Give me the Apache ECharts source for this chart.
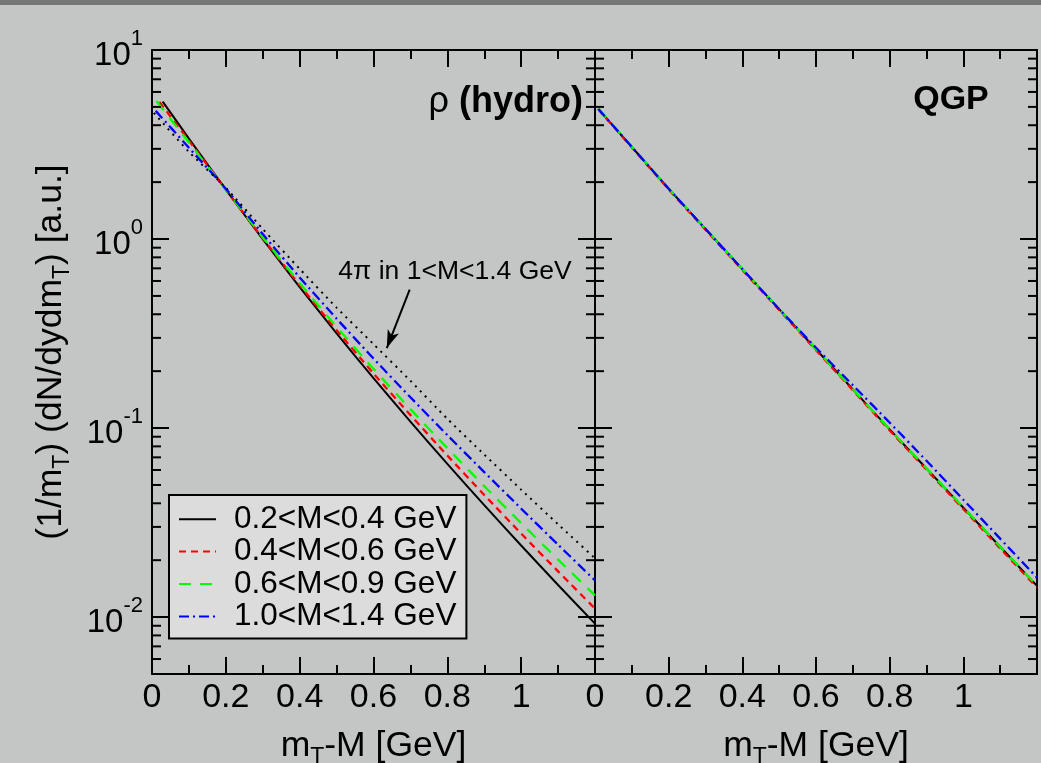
<!DOCTYPE html>
<html><head><meta charset="utf-8">
<style>html,body{margin:0;padding:0;background:#c4c6c5;}#c{width:1041px;height:763px;}</style>
<script src="https://cdn.jsdelivr.net/npm/echarts@6/dist/echarts.min.js"></script>
</head><body><div id="c"></div>
<script>
// ---- data ----
// rho (hydro) panel
const hydroX_a = [0.029, 0.1, 0.2, 0.3, 0.4, 0.5, 0.6, 0.7, 0.8, 0.9, 1.0, 1.1, 1.2];
const hydroY_a = [5.33, 3.40, 1.824, 0.9977, 0.5572, 0.3170, 0.1837, 0.1081, 0.0646, 0.0391, 0.02393, 0.01479, 0.00923];
const hydroX_b = [0.02, 0.1, 0.2, 0.3, 0.4, 0.5, 0.6, 0.7, 0.8, 0.9, 1.0, 1.1, 1.2];
const hydroY_b = [5.31, 3.319, 1.824, 1.009, 0.5702, 0.3296, 0.1945, 0.1172, 0.0716, 0.04426, 0.02767, 0.01746, 0.01109];
const hydroX_c = [0.012, 0.1, 0.2, 0.3, 0.4, 0.5, 0.6, 0.7, 0.8, 0.9, 1.0, 1.1, 1.2];
const hydroY_c = [5.37, 3.243, 1.824, 1.021, 0.5848, 0.3428, 0.2056, 0.1259, 0.0783, 0.0493, 0.03141, 0.02014, 0.01303];
const hydroX_d = [0.01, 0.1, 0.2, 0.3, 0.4, 0.5, 0.6, 0.7, 0.8, 0.9, 1.0, 1.1, 1.2];
const hydroY_d = [4.764, 3.040, 1.845, 1.062, 0.6266, 0.3793, 0.2333, 0.1455, 0.0918, 0.0585, 0.0375, 0.02415, 0.01563];
const hydroX_4pi = [0.005, 0.1, 0.2, 0.3, 0.4, 0.5, 0.6, 0.7, 0.8, 0.9, 1.0, 1.1, 1.2];
const hydroY_4pi = [4.645, 2.891, 1.866, 1.130, 0.6950, 0.4335, 0.2780, 0.1778, 0.1119, 0.07244, 0.04721, 0.03097, 0.02046];
// QGP panel
const qgpX = [0.009, 0.1, 0.2, 0.3, 0.4, 0.5, 0.6, 0.7, 0.8, 0.9, 1.0, 1.1, 1.2];
const qgpY_a = [4.875, 3.069, 1.845, 1.130, 0.6934, 0.4256, 0.2612, 0.1603, 0.0984, 0.0611, 0.0379, 0.02355, 0.01462];
const qgpY_b = [4.86, 3.05, 1.83, 1.12, 0.686, 0.421, 0.258, 0.1585, 0.0972, 0.0602, 0.0373, 0.0231, 0.01430];
const qgpY_c = [4.90, 3.08, 1.85, 1.132, 0.695, 0.426, 0.2615, 0.1605, 0.0985, 0.0612, 0.0380, 0.02358, 0.01465];
const qgpY_d = [4.875, 3.069, 1.845, 1.130, 0.6934, 0.4256, 0.2661, 0.1686, 0.1069, 0.0671, 0.0418, 0.0260, 0.01618];
// names and ticks
const seriesNames = ['0.2<M<0.4 GeV', '0.4<M<0.6 GeV', '0.6<M<0.9 GeV', '1.0<M<1.4 GeV'];
const fourPiName = '4π in 1<M<1.4 GeV';
const minorLogTicks = [0.006,0.007,0.008,0.009,0.02,0.03,0.04,0.05,0.06,0.07,0.08,0.09,0.2,0.3,0.4,0.5,0.6,0.7,0.8,0.9,2,3,4,5,6,7,8,9];

const FONT = '"Liberation Sans", Arial, Helvetica, sans-serif';
const zip = (xs, ys) => xs.map((x, i) => [x, ys[i]]);

const xBase = (grid, pos, labels, name) => ({
  type: 'value', gridIndex: grid, position: pos, min: 0, max: 1.2, interval: 0.2,
  axisLine: { show: true, onZero: false, lineStyle: { color: '#000', width: 2 } },
  axisTick: { show: true, inside: true, length: 17, lineStyle: { color: '#000', width: 2 } },
  minorTick: { show: true, splitNumber: 2, length: 9, lineStyle: { color: '#000', width: 2 } },
  splitLine: { show: false }, minorSplitLine: { show: false },
  axisLabel: {
    show: labels, color: '#000', fontSize: 34, fontFamily: FONT, margin: 7,
    formatter: v => (v > 1.05 ? '' : String(+v.toFixed(1)))
  },
  name: name || '', nameLocation: 'middle', nameGap: 54,
  nameTextStyle: {
    rich: {
      n: { fontSize: 35.5, fontFamily: FONT, color: '#000', lineHeight: 38, verticalAlign: 'top' },
      sub: { fontSize: 23, fontFamily: FONT, color: '#000', lineHeight: 23, padding: [18, 0, 0, 0], verticalAlign: 'top' }
    }
  }
});
const yBase = (grid, pos, labels, name) => ({
  type: 'log', logBase: 10, gridIndex: grid, position: pos, min: 0.005, max: 10,
  axisLine: { show: true, onZero: false, lineStyle: { color: '#000', width: 2 } },
  axisTick: { show: true, inside: true, length: 17, lineStyle: { color: '#000', width: 2 } },
  minorTick: { show: false }, splitLine: { show: false },
  axisLabel: {
    show: labels, margin: 9,
    formatter: v => {
      const e = Math.log10(v), r = Math.round(e);
      if (Math.abs(e - r) > 1e-6) return '';
      return '{b|10}{s|' + r + '}';
    },
    rich: {
      b: { fontSize: 33, fontFamily: FONT, color: '#000', lineHeight: 44, verticalAlign: 'bottom' },
      s: { fontSize: 22, fontFamily: FONT, color: '#000', lineHeight: 22, verticalAlign: 'top' }
    }
  },
  name: name || '', nameLocation: 'middle', nameGap: 81,
  nameTextStyle: {
    padding: [0, 0, 0, 20],
    rich: {
      n: { fontSize: 35.5, fontFamily: FONT, color: '#000', lineHeight: 38, verticalAlign: 'top' },
      sub: { fontSize: 23, fontFamily: FONT, color: '#000', lineHeight: 23, padding: [18, 0, 0, 0], verticalAlign: 'top' }
    }
  }
});

const lineSeries = (name, data, grid, color, type, extra) => Object.assign({
  type: 'line', name, data, xAxisIndex: grid === 0 ? 0 : 2, yAxisIndex: grid === 0 ? 0 : 2,
  showSymbol: false, symbol: 'none', smooth: 0.2, color,
  lineStyle: { color, width: 2, type }, animation: false, z: 3
}, extra || {});

const minorTickSeries = (grid) => ({
  type: 'custom', xAxisIndex: grid === 0 ? 0 : 2, yAxisIndex: grid === 0 ? 0 : 2,
  data: minorLogTicks.map(v => [0, v]), silent: true, animation: false, clip: false, z: 4,
  renderItem: (params, api) => {
    const v = api.value(1);
    const a = api.coord([0, v]);
    const b = api.coord([1.2, v]);
    return {
      type: 'group', children: [
        { type: 'line', shape: { x1: a[0], y1: a[1], x2: a[0] + 9, y2: a[1] }, style: { stroke: '#000', lineWidth: 2 } },
        { type: 'line', shape: { x1: b[0] - 9, y1: b[1], x2: b[0], y2: b[1] }, style: { stroke: '#000', lineWidth: 2 } }
      ]
    };
  }
});

const chart = echarts.init(document.getElementById('c'), null, { renderer: 'canvas' });
chart.setOption({
  backgroundColor: '#c4c6c5',
  animation: false,
  grid: [
    { left: 152, right: 446, top: 50, bottom: 89, show: false, containLabel: false, outerBoundsMode: 'none' },
    { left: 595, right: 4, top: 50, bottom: 89, show: false, containLabel: false, outerBoundsMode: 'none' }
  ],
  xAxis: [
    xBase(0, 'bottom', true, '{n|m}{sub|T}{n|-M [GeV]}'),
    xBase(0, 'top', false),
    xBase(1, 'bottom', true, '{n|m}{sub|T}{n|-M [GeV]}'),
    xBase(1, 'top', false)
  ],
  yAxis: [
    yBase(0, 'left', true, '{n|(1/m}{sub|T}{n|) (dN/dydm}{sub|T}{n|) [a.u.]}'),
    yBase(0, 'right', false),
    yBase(1, 'left', false),
    yBase(1, 'right', false)
  ],
  legend: {
    data: seriesNames, orient: 'vertical', left: 169, top: 495,
    padding: [8, 10, 6, 9], itemWidth: 37, itemHeight: 14, itemGap: 0,
    backgroundColor: '#dcdcdc', borderColor: '#000', borderWidth: 2,
    selectedMode: false,
    itemStyle: { opacity: 0 },
    textStyle: { fontSize: 31.5, fontFamily: FONT, color: '#000', lineHeight: 32.4, padding: [0, 0, 0, 13] }
  },
  graphic: [
    { type: 'rect', shape: { x: 0, y: 0, width: 1041, height: 5 }, style: { fill: '#767676' }, z: 10 },
    { type: 'text', x: 583, y: 102, z: 10, style: {
        text: '{r|ρ }{h|(hydro)}', align: 'right', verticalAlign: 'middle',
        rich: {
          r: { fontSize: 36, fontFamily: FONT, fill: '#000', color: '#000' },
          h: { fontSize: 36, fontFamily: FONT, fontWeight: 'bold', fill: '#000', color: '#000' }
        }
      } },
    { type: 'text', x: 951, y: 100, z: 10, style: {
        text: 'QGP', align: 'center', verticalAlign: 'middle',
        font: 'bold 34px ' + FONT, fill: '#000'
      } },
    { type: 'text', x: 455, y: 272, z: 10, style: {
        text: fourPiName, align: 'center', verticalAlign: 'middle',
        font: '26.5px ' + FONT, fill: '#000'
      } }
  ],
  series: [
    lineSeries(seriesNames[0], zip(hydroX_a, hydroY_a), 0, '#000000', 'solid'),
    lineSeries(seriesNames[1], zip(hydroX_b, hydroY_b), 0, '#ff0000', [7, 5], { lineStyle: { color: '#ff0000', width: 2.3, type: [7, 5] } }),
    lineSeries(seriesNames[2], zip(hydroX_c, hydroY_c), 0, '#00ff00', [12, 9], { lineStyle: { color: '#00ff00', width: 2.3, type: [12, 9] } }),
    lineSeries(seriesNames[3], zip(hydroX_d, hydroY_d), 0, '#0000ff', [10, 4, 2, 4], { lineStyle: { color: '#0000ff', width: 2.3, type: [10, 4, 2, 4] } }),
    lineSeries(fourPiName, zip(hydroX_4pi, hydroY_4pi), 0, '#000000', [2, 5], {
      markLine: {
        silent: true, symbol: ['none', 'arrow'], symbolSize: [9, 18], animation: false,
        label: { show: false }, lineStyle: { color: '#000', width: 2, type: 'solid' },
        data: [[{ coord: [0.698, 0.54] }, { coord: [0.636, 0.265] }]]
      }
    }),
    lineSeries(seriesNames[0], zip(qgpX, qgpY_a), 1, '#000000', 'solid'),
    lineSeries(seriesNames[1], zip(qgpX, qgpY_b), 1, '#ff0000', [7, 5], { lineStyle: { color: '#ff0000', width: 2.3, type: [7, 5] } }),
    lineSeries(seriesNames[2], zip(qgpX, qgpY_c), 1, '#00ff00', [12, 9], { lineStyle: { color: '#00ff00', width: 2.3, type: [12, 9] } }),
    lineSeries(seriesNames[3], zip(qgpX, qgpY_d), 1, '#0000ff', [10, 4, 2, 4], { lineStyle: { color: '#0000ff', width: 2.3, type: [10, 4, 2, 4] } }),
    minorTickSeries(0),
    minorTickSeries(1)
  ]
});
</script></body></html>
